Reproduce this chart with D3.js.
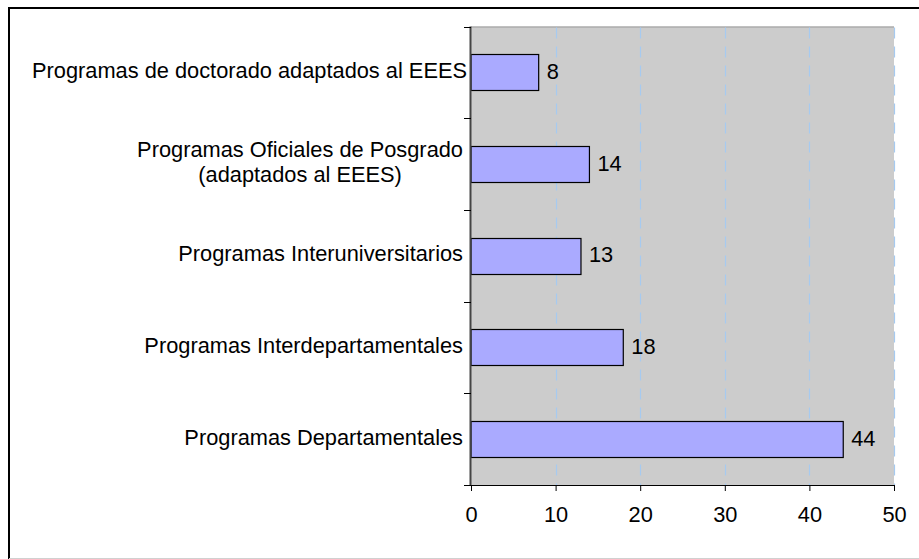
<!DOCTYPE html>
<html>
<head>
<meta charset="utf-8">
<script src="https://cdn.jsdelivr.net/npm/d3@7"></script>
<style>
  body { margin: 0; background: #fff; }
  svg text { font-family: "Liberation Sans", Arial, sans-serif; fill: #000; }
</style>
</head>
<body>
<div id="chart"></div>
<script>
// categories top to bottom, each label split into its lines
var categories = [
    ["Programas de doctorado adaptados al EEES"],
    ["Programas Oficiales de Posgrado", "(adaptados al EEES)"],
    ["Programas Interuniversitarios"],
    ["Programas Interdepartamentales"],
    ["Programas Departamentales"]
];
var values = [8, 14, 13, 18, 44];
var xTicks = [0, 10, 20, 30, 40, 50];

var svgWidth = 919, svgHeight = 559;
var plot = { left: 471, right: 894, top: 26.5, bottom: 485 };
var fontSize = 21.8;

var svg = d3.select("#chart").append("svg")
    .attr("width", svgWidth)
    .attr("height", svgHeight);

//outer frame: black left/top, light gray bottom
svg.append("path")
    .attr("d", "M9,559 V8 H919")
    .attr("fill", "none")
    .attr("stroke", "#000")
    .attr("stroke-width", 2);
svg.append("line")
    .attr("x1", 9).attr("x2", 919)
    .attr("y1", 558.5).attr("y2", 558.5)
    .attr("stroke", "#d0d0d0");

var xScale = d3.scaleLinear().domain([0, 50]).range([plot.left, plot.right]);
var keys = categories.map(function(d, i) { return i; });
var yScale = d3.scaleBand().domain(keys)
    .range([plot.top, plot.bottom])
    .paddingInner(0.607)
    .paddingOuter(0.3035);

//gray plot area
svg.append("rect")
    .attr("x", plot.left).attr("y", plot.top)
    .attr("width", plot.right - plot.left)
    .attr("height", plot.bottom - plot.top)
    .attr("fill", "#cccccc");
svg.append("line")
    .attr("x1", plot.left).attr("x2", plot.right)
    .attr("y1", plot.top + 0.5).attr("y2", plot.top + 0.5)
    .attr("stroke", "#9a9a9a");

//dashed gridlines
svg.append("g").selectAll("line")
    .data(xTicks.slice(1))
    .enter().append("line")
    .attr("x1", d => Math.round(xScale(d)) + 0.5)
    .attr("x2", d => Math.round(xScale(d)) + 0.5)
    .attr("y1", plot.top + 1)
    .attr("y2", plot.bottom)
    .attr("stroke", "#a6caf0")
    .attr("stroke-width", 1.2)
    .attr("stroke-dasharray", "11,8");

//bars
svg.append("g").selectAll("rect")
    .data(values)
    .enter().append("rect")
    .attr("x", xScale(0))
    .attr("y", (d, i) => Math.round(yScale(i)) + 0.5)
    .attr("width", d => xScale(d) - xScale(0))
    .attr("height", Math.round(yScale.bandwidth()))
    .attr("fill", "#aaaaff")
    .attr("stroke", "#000")
    .attr("stroke-width", 1.2);

//value labels
svg.append("g").selectAll("text")
    .data(values)
    .enter().append("text")
    .attr("x", d => xScale(d) + 8)
    .attr("y", (d, i) => yScale(i) + yScale.bandwidth() / 2 - 1)
    .attr("dy", "0.35em")
    .style("font-size", fontSize + "px")
    .text(d => d);

//bottom axis
var bottomAxis = d3.axisBottom(xScale).tickValues(xTicks).tickSize(6).tickPadding(16);
var xAxisG = svg.append("g")
    .attr("transform", `translate(0, ${plot.bottom})`)
    .call(bottomAxis);
xAxisG.select(".domain").attr("d", `M${plot.left - 7},0.5H${plot.right}`).attr("stroke", "#000");
xAxisG.selectAll(".tick line").attr("stroke", "#000");
xAxisG.selectAll(".tick text")
    .style("font-size", fontSize + "px")
    .attr("font-family", null);
xAxisG.attr("font-family", null).attr("font-size", null);

//left axis line and category ticks at band edges
var step = yScale.step();
var edges = d3.range(categories.length + 1).map(i => plot.top + i * step);
svg.append("line")
    .attr("x1", plot.left - 0.5).attr("x2", plot.left - 0.5)
    .attr("y1", plot.top).attr("y2", plot.bottom)
    .attr("stroke", "#444")
    .attr("stroke-width", 2);
svg.append("g").selectAll("line")
    .data(edges)
    .enter().append("line")
    .attr("x1", plot.left - 7).attr("x2", plot.left)
    .attr("y1", d => Math.round(d) + 0.5)
    .attr("y2", d => Math.round(d) + 0.5)
    .attr("stroke", "#000");

//category labels, multi-line ones centered as a block
var labelRight = 463;
var lineH = 25;
var catG = svg.append("g").selectAll("g")
    .data(categories)
    .enter().append("g");
catG.each(function(lines, i) {
    var g = d3.select(this);
    var cy = yScale(i) + yScale.bandwidth() / 2 - 2;
    var texts = g.selectAll("text").data(lines).enter().append("text")
        .style("font-size", fontSize + "px")
        .attr("dy", "0.35em")
        .attr("y", (d, j) => cy + (j - (lines.length - 1) / 2) * lineH)
        .text(d => d);
    var widths = [];
    texts.each(function() { widths.push(this.getComputedTextLength()); });
    var maxW = d3.max(widths);
    if (lines.length > 1) {
        texts.attr("text-anchor", "middle").attr("x", labelRight - maxW / 2);
    } else {
        texts.attr("text-anchor", "end").attr("x", Math.max(labelRight, 32 + maxW));
    }
});
</script>
</body>
</html>
